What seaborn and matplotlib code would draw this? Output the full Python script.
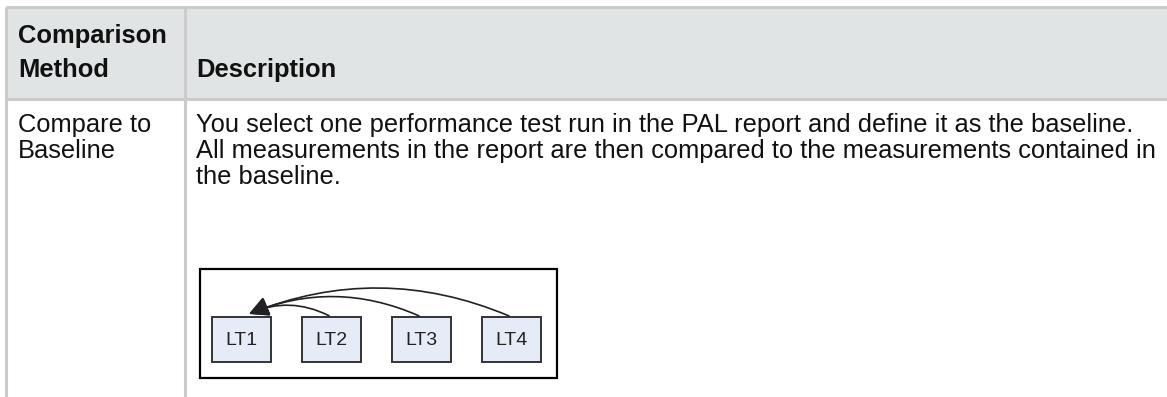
import matplotlib
matplotlib.use("Agg")
import matplotlib.pyplot as plt
import seaborn as sns
from matplotlib.patches import Rectangle, FancyArrowPatch

# table content
header_method = ["Comparison", "Method"]
header_desc = "Description"
method_lines = ["Compare to", "Baseline"]
desc_lines = [
    "You select one performance test run in the PAL report and define it as the baseline.",
    "All measurements in the report are then compared to the measurements contained in",
    "the baseline.",
]
node_labels = ["LT1", "LT2", "LT3", "LT4"]
baseline_node = "LT1"

sns.set_style("white")
plt.rcParams['font.family'] = ['Liberation Sans', 'DejaVu Sans']

W, H = 1167, 397
fig = plt.figure(figsize=(W / 100, H / 100), dpi=100)
ax = fig.add_axes([0, 0, 1, 1])
ax.set_xlim(0, W)
ax.set_ylim(H, 0)
ax.axis('off')

line_c = '#cbcbcb'
head_bg = '#e1e4e5'
col_x = [6, 185]
top, head_bot = 7, 99

# header background + grid lines
ax.add_patch(Rectangle((col_x[0], top), W - col_x[0], head_bot - top, color=head_bg, lw=0, zorder=0))
ax.plot([col_x[0], W], [top, top], color=line_c, lw=2.2, solid_capstyle='butt')
ax.plot([col_x[0], W], [head_bot, head_bot], color=line_c, lw=2.2, solid_capstyle='butt')
for x in col_x:
    ax.plot([x, x], [top, H], color=line_c, lw=2.2, solid_capstyle='butt')

fs = 18.4
# header texts (bottom aligned)
for i, s in enumerate(header_method):
    ax.text(18, 43 + 34 * i, s, fontsize=fs, fontweight='bold', va='baseline', ha='left', color='#111111')
ax.text(196, 77, header_desc, fontsize=fs, fontweight='bold', va='baseline', ha='left', color='#111111')

# body
for i, s in enumerate(method_lines):
    ax.text(18, 132 + 26 * i, s, fontsize=fs, va='baseline', ha='left', color='#111111')
for i, s in enumerate(desc_lines):
    ax.text(196, 132 + 26 * i, s, fontsize=fs, va='baseline', ha='left', color='#111111')

# diagram frame
ax.add_patch(Rectangle((200, 269), 357, 109, fill=False, ec='black', lw=1.6, zorder=2))
node_w, node_h, node_y, node_x0, node_step = 59, 45, 317, 212, 90
centers = {}
for i, lab in enumerate(node_labels):
    x = node_x0 + i * node_step
    ax.add_patch(Rectangle((x, node_y), node_w, node_h, fc='#e6ecf7', ec='#333333', lw=1.4, zorder=3))
    ax.text(x + node_w / 2, node_y + node_h / 2 + 1, lab, fontsize=14, ha='center', va='center',
            color='#222222', zorder=4)
    centers[lab] = x + node_w / 2

tip = (centers[baseline_node] + 5, node_y - 2)
rads = [0.25, 0.22, 0.21]
for lab, rad in zip(node_labels[1:], rads):
    arr = FancyArrowPatch((centers[lab], node_y), tip, connectionstyle=f"arc3,rad={rad}",
                          arrowstyle='-|>,head_length=6,head_width=3', mutation_scale=2.0,
                          color='#222222', lw=1.2, zorder=3)
    ax.add_patch(arr)

fig.savefig('out.png', dpi=100)
